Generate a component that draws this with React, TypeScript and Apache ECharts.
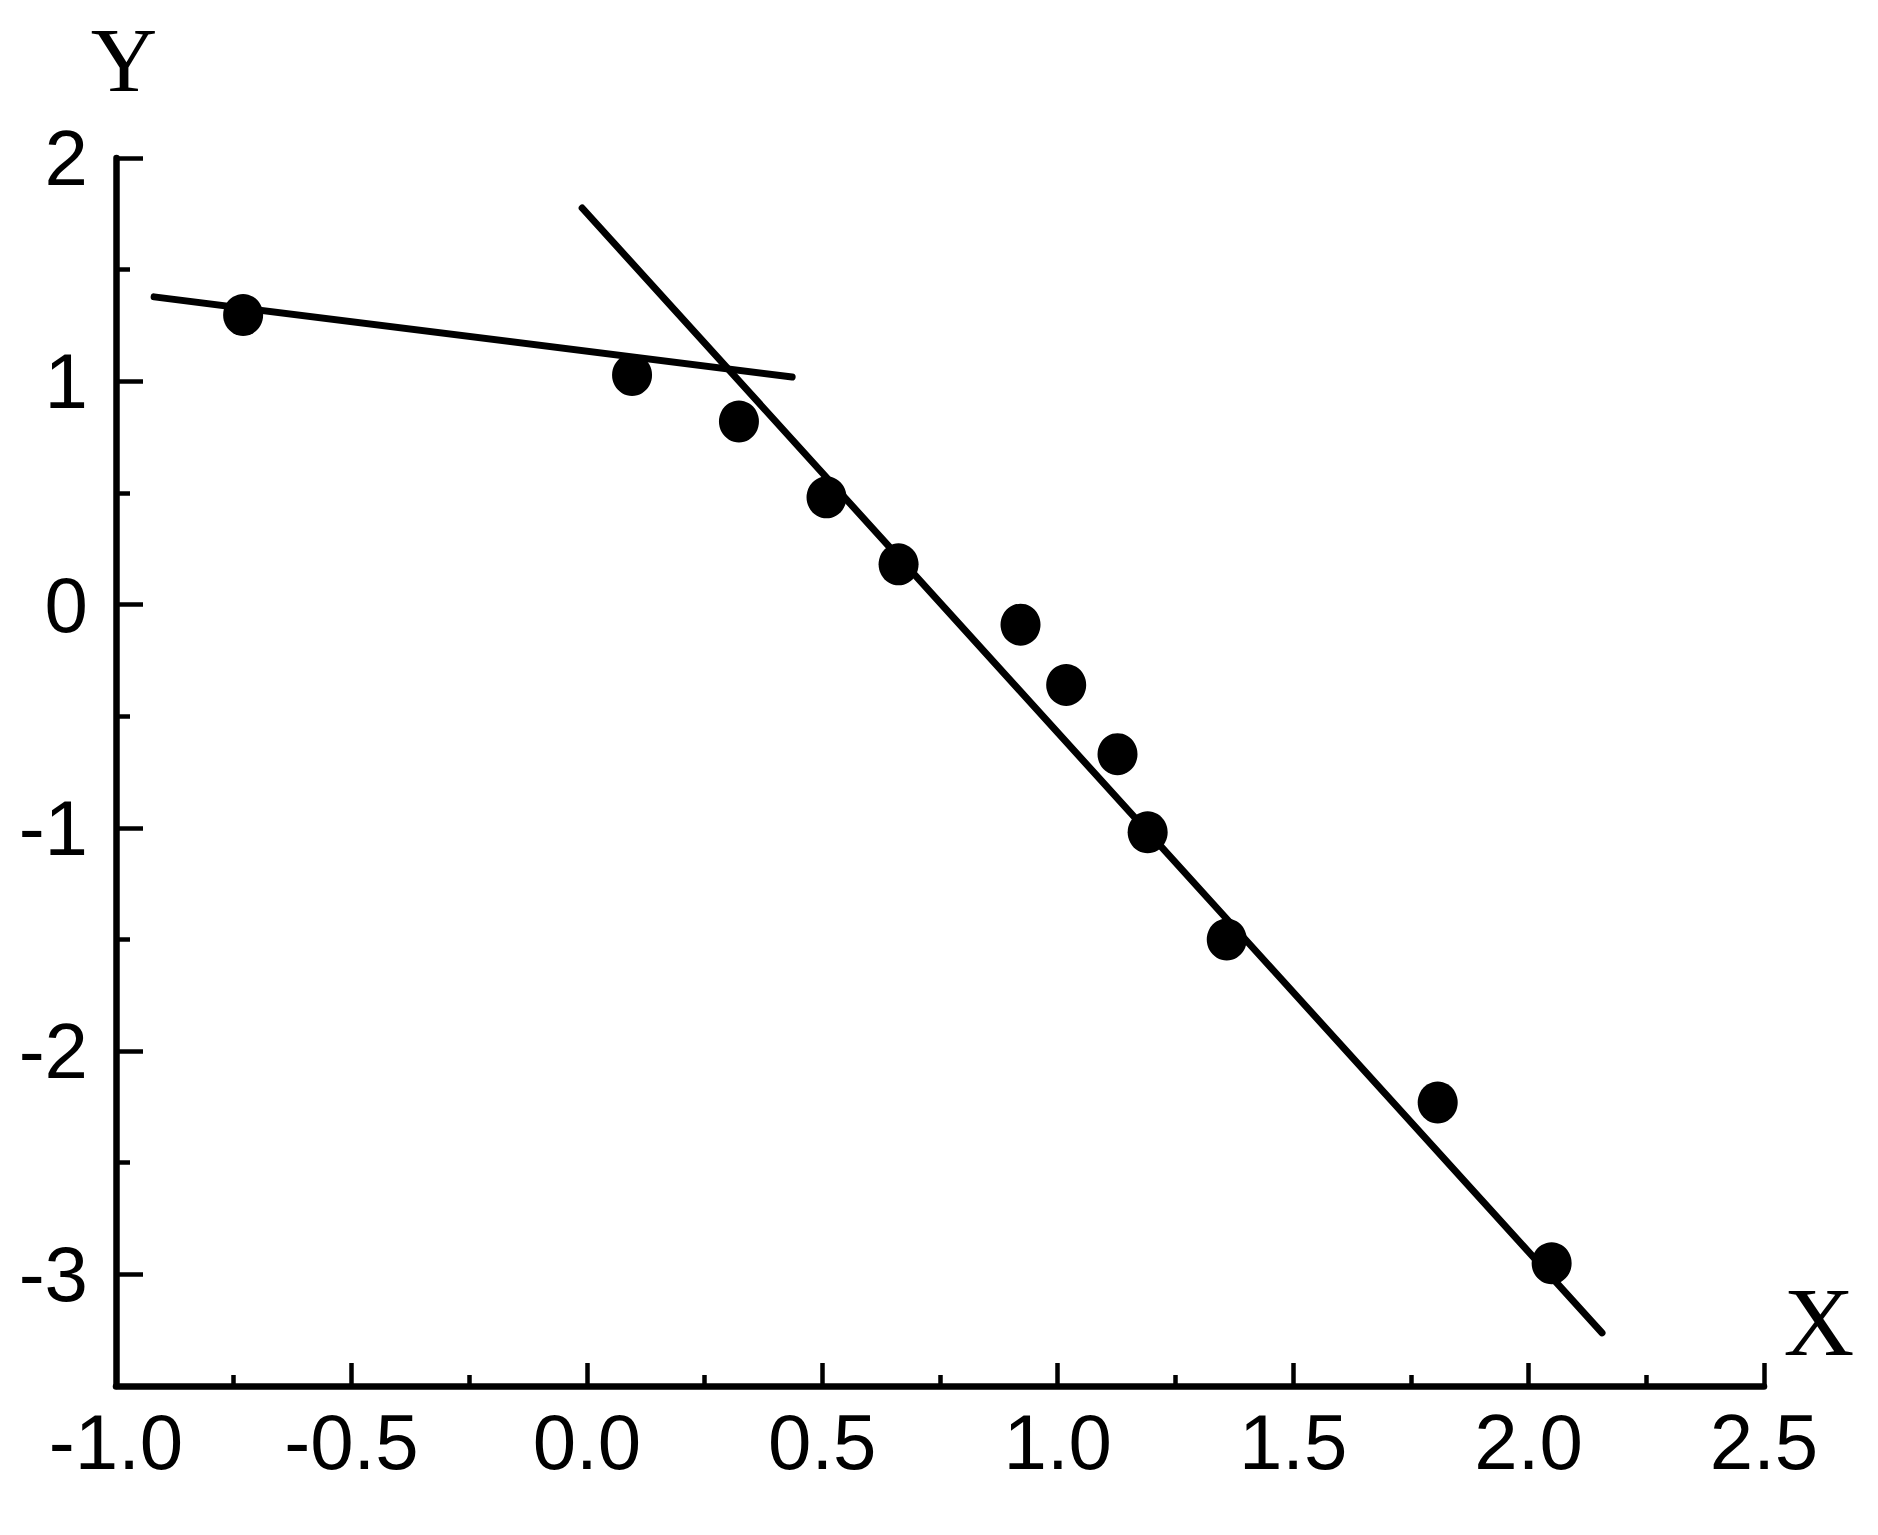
import React, { useEffect, useRef } from "react";
import * as echarts from "echarts";

const pointX = [-0.73, 0.096, 0.323, 0.509, 0.662, 0.921, 1.018, 1.127, 1.191, 1.359, 1.807, 2.049];
const pointY = [1.297, 1.028, 0.82, 0.48, 0.18, -0.09, -0.36, -0.67, -1.02, -1.5, -2.23, -2.95];
const fitAX = [-0.919, 0.436];
const fitAY = [1.378, 1.019];
const fitBX = [-0.01, 2.156];
const fitBY = [1.776, -3.262];

const xMin = -1.0;
const xMax = 2.5;
const yMin = -3.5;
const yMax = 2;
const yMajor = [-3, -2, -1, 0, 1, 2];
const yMinor = [-2.5, -1.5, -0.5, 0.5, 1.5];

const SANS = "'Liberation Sans', Arial, sans-serif";
const SERIF = "'Liberation Serif', 'Times New Roman', serif";

export default function App() {
  const ref = useRef<HTMLDivElement>(null);
  useEffect(() => {
    if (!ref.current) return;
    const chart = echarts.init(ref.current, undefined, { renderer: "svg" });
    const axisLine = { show: true, onZero: false, lineStyle: { color: "#000", width: 6.5 } };
    chart.setOption({
      animation: false,
      backgroundColor: "#fff",
      grid: { left: 116, top: 158, width: 1648, height: 1228 },
      xAxis: {
        type: "value",
        min: xMin,
        max: xMax,
        interval: 0.5,
        axisLine,
        splitLine: { show: false },
        axisTick: { show: true, inside: true, length: 23, lineStyle: { color: "#000", width: 4.5 } },
        minorTick: { show: true, splitNumber: 2, length: 11, lineStyle: { color: "#000", width: 4.5 } },
        axisLabel: {
          margin: 17,
          color: "#000",
          fontFamily: SANS,
          fontSize: 78,
          formatter: (v: number) => v.toFixed(1),
        },
      },
      yAxis: [
        {
          type: "value",
          min: yMin,
          max: yMax,
          position: "left",
          axisLine,
          splitLine: { show: false },
          axisTick: {
            show: true,
            inside: true,
            length: 27,
            customValues: yMajor,
            lineStyle: { color: "#000", width: 4.5 },
          },
          axisLabel: {
            margin: 28,
            color: "#000",
            fontFamily: SANS,
            fontSize: 78,
            customValues: yMajor,
            formatter: (v: number) => String(v),
          },
        },
        {
          type: "value",
          min: yMin,
          max: yMax,
          position: "left",
          axisLine: { show: false, onZero: false },
          splitLine: { show: false },
          axisTick: {
            show: true,
            inside: true,
            length: 14,
            customValues: yMinor,
            lineStyle: { color: "#000", width: 4.5 },
          },
          axisLabel: { show: false },
        },
      ],
      graphic: [
        {
          type: "text",
          x: 124,
          y: 60,
          style: { text: "Y", fontFamily: SERIF, fontSize: 92, fill: "#000", align: "center", verticalAlign: "middle" },
        },
        {
          type: "text",
          x: 1819,
          y: 1322,
          style: { text: "X", fontFamily: SERIF, fontSize: 98, fill: "#000", align: "center", verticalAlign: "middle" },
        },
      ],
      series: [
        {
          type: "line",
          data: fitAX.map((x, i) => [x, fitAY[i]]),
          showSymbol: false,
          lineStyle: { color: "#000", width: 7, cap: "round" },
          z: 2,
        },
        {
          type: "line",
          data: fitBX.map((x, i) => [x, fitBY[i]]),
          showSymbol: false,
          lineStyle: { color: "#000", width: 7, cap: "round" },
          z: 2,
        },
        {
          type: "scatter",
          data: pointX.map((x, i) => [x, pointY[i]]),
          symbol: "circle",
          symbolSize: [40, 42],
          itemStyle: { color: "#000", opacity: 1 },
          z: 3,
        },
      ],
    });
    return () => chart.dispose();
  }, []);
  return (
    <div
      ref={ref}
      style={{ position: "fixed", left: 0, top: 0, width: 1878, height: 1535, background: "#fff" }}
    />
  );
}
